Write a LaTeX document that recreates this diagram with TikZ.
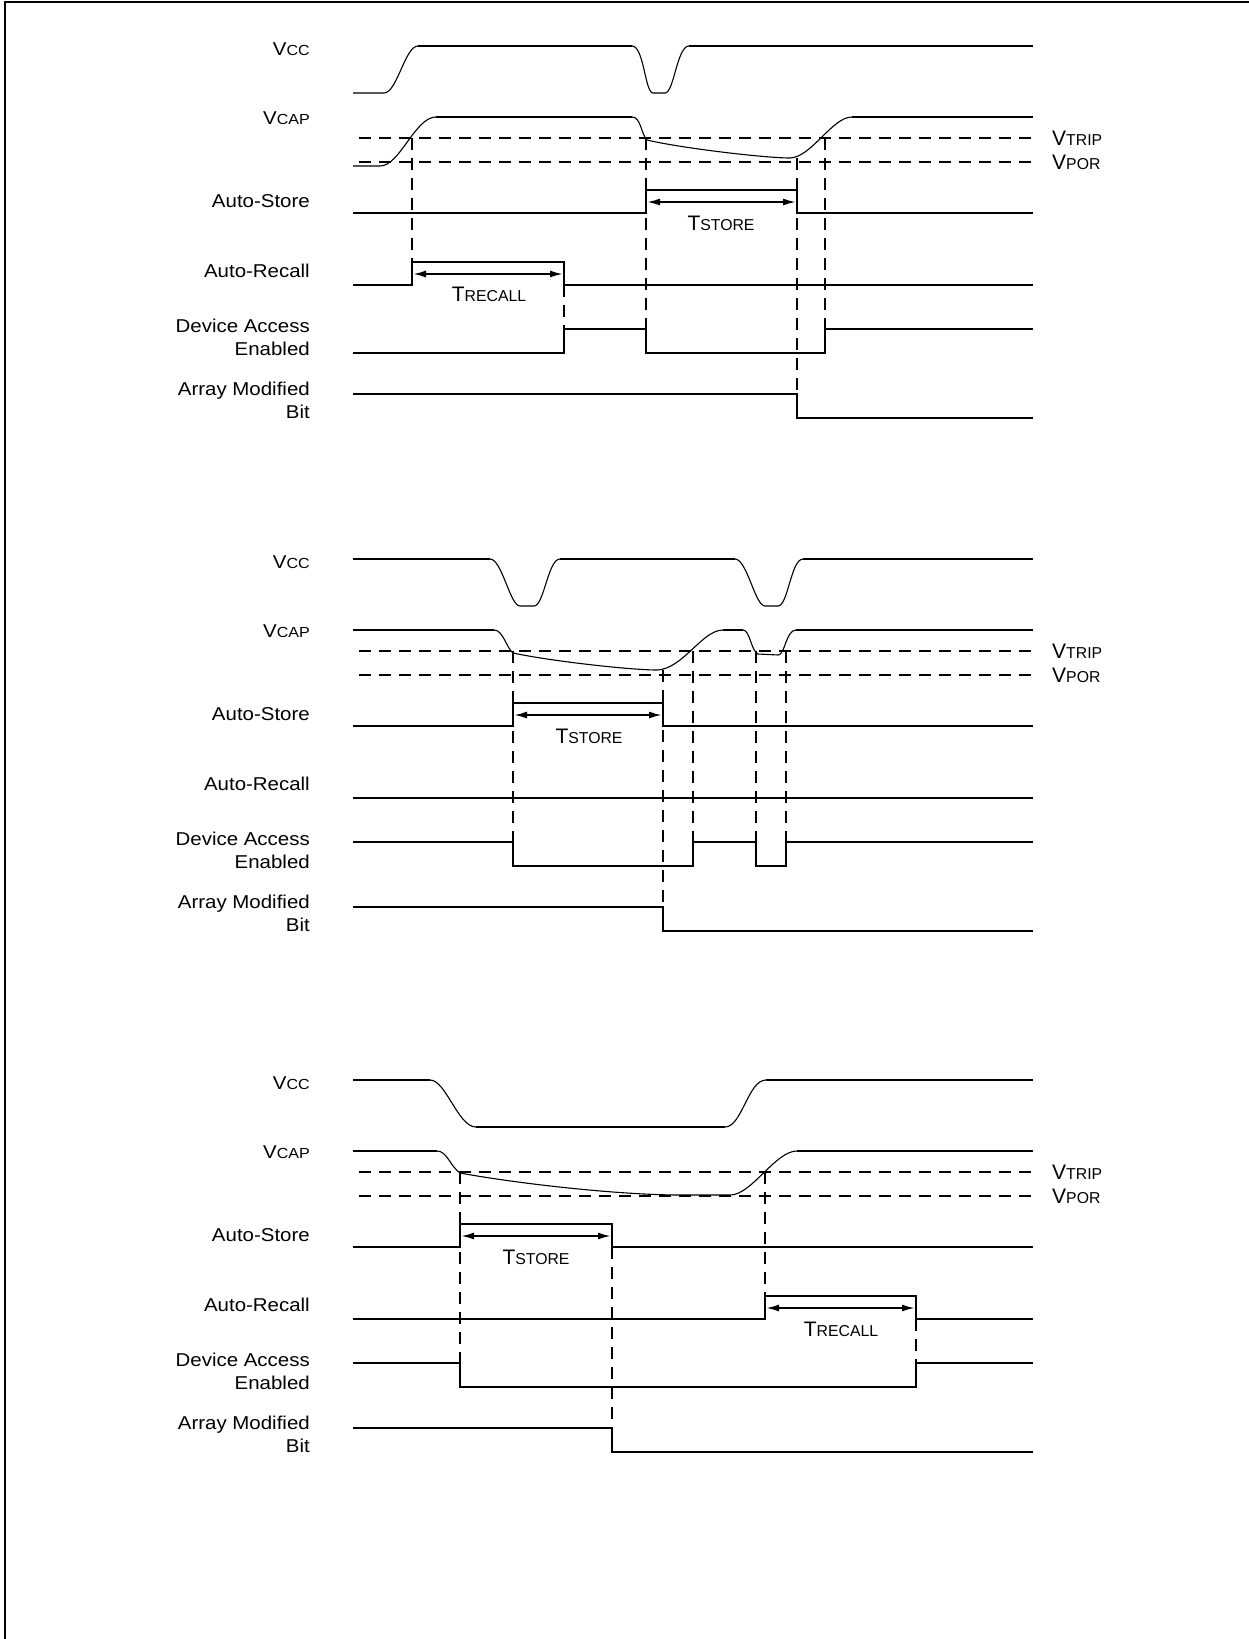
\documentclass[tikz,border=0pt]{standalone}
\usepackage{fontspec}
\setmainfont{Liberation Sans}[FakeStretch=1.1]
\newfontfamily\plainsans{Liberation Sans}
\usetikzlibrary{arrows.meta}
\newcommand{\lowcap}[1]{{\fontsize{14.6}{16}\selectfont #1}}
\newcommand{\timecap}[2]{{\plainsans\fontsize{21}{24}\selectfont #1\fontsize{15.8}{24}\selectfont #2}}

\begin{document}
\begin{tikzpicture}[x=1pt,y=-1pt,
  sig/.style={line width=2.4pt},
  ana/.style={line width=1.1pt},
  guide/.style={line width=2pt,dash pattern=on 12pt off 8pt},
  dim/.style={line width=1.9pt,{Latex[length=13pt,width=7pt]}-{Latex[length=13pt,width=7pt]}},
  lbl/.style={inner sep=0pt,font=\fontsize{18.6}{23}\selectfont,align=right},
  tlbl/.style={inner sep=0pt}]

\useasboundingbox (0,0) rectangle (1249,1639);
\draw[line width=2.4pt] (5,1639) -- (5,2) -- (1249,2);

\foreach \p/\dy in {1/0,2/513,3/1034}{
\begin{scope}[shift={(0,\dy)}]
\node[lbl,anchor=base east] (vcc-\p) at (310,55) {V\lowcap{CC}};
\node[lbl,anchor=base east] (vcap-\p) at (310,124) {V\lowcap{CAP}};
\node[lbl,anchor=base east] (store-\p) at (310,207) {Auto-Store};
\node[lbl,anchor=base east] (recall-\p) at (310,277) {Auto-Recall};
\node[lbl,anchor=north east] (access-\p) at (310,318.5) {Device Access\\Enabled};
\node[lbl,anchor=north east] (modbit-\p) at (310,381.7) {Array Modified\\Bit};
\node[tlbl,anchor=base west] (trip-\p) at (1052,145) {\timecap{V}{TRIP}};
\node[tlbl,anchor=base west] (por-\p) at (1052,169) {\timecap{V}{POR}};
\draw[guide] (359,138) -- (1033,138);
\draw[guide] (359,162) -- (1033,162);
\end{scope}
}

% power up, short dip
\draw[guide] (412,138) -- (412,285) (564,285) -- (564,329) (646,138) -- (646,353)
  (797,158) -- (797,394) (825,138) -- (825,329);
\draw[ana] (353,93) -- (384,93) .. controls (397,93) and (405,46) .. (418,46)
  (632,46) .. controls (644,46) and (645,93) .. (653,93) -- (665,93) .. controls (674,93) and (677,46) .. (689,46);
\draw[sig] (418,46) -- (632,46) (689,46) -- (1033,46);
\draw[ana] (353,166) -- (380,166) .. controls (400,166) and (415,117) .. (436,117)
  (632,117) .. controls (641,117) and (641,134) .. (647,140) .. controls (680,148) and (765,158) .. (790,158)
  .. controls (812,157) and (832,117) .. (852,117);
\draw[sig] (436,117) -- (632,117) (852,117) -- (1033,117);
\draw[sig] (353,213) -- (646,213) -- (646,190) -- (797,190) -- (797,213) -- (1033,213);
\draw[dim] (647,202) -- (796,202);
\node[tlbl,anchor=base] (tstore-1) at (721,230) {\timecap{T}{STORE}};
\draw[sig] (353,285) -- (412,285) -- (412,262) -- (564,262) -- (564,285) -- (1033,285);
\draw[dim] (413,274) -- (563,274);
\node[tlbl,anchor=base] (trecall-1) at (489,301) {\timecap{T}{RECALL}};
\draw[sig] (353,353) -- (564,353) -- (564,329) -- (646,329) -- (646,353) -- (825,353) -- (825,329) -- (1033,329);
\draw[sig] (353,394) -- (797,394) -- (797,418) -- (1033,418);

% two short dips
\begin{scope}[shift={(0,513)}]
\draw[guide] (513,138) -- (513,353) (663,157) -- (663,394) (693,138) -- (693,329)
  (756,138) -- (756,329) (786,138) -- (786,329);
\draw[ana] (490,46) .. controls (502,46) and (510,93) .. (520,93) -- (534,93) .. controls (544,93) and (548,46) .. (560,46)
  (735,46) .. controls (747,46) and (755,93) .. (765,93) -- (778,93) .. controls (788,93) and (791,46) .. (803,46);
\draw[sig] (353,46) -- (490,46) (560,46) -- (735,46) (803,46) -- (1033,46);
\draw[ana] (494,117) .. controls (503,117) and (506,134) .. (513,140) .. controls (550,148) and (630,157) .. (657,157)
  .. controls (683,156) and (702,117) .. (723,117)
  (743,117) .. controls (750,117) and (751,138) .. (758,141) -- (778,142) .. controls (785,142) and (786,117) .. (796,117);
\draw[sig] (353,117) -- (494,117) (723,117) -- (743,117) (796,117) -- (1033,117);
\draw[sig] (353,213) -- (513,213) -- (513,190) -- (663,190) -- (663,213) -- (1033,213);
\draw[dim] (514,202) -- (662,202);
\node[tlbl,anchor=base] (tstore-2) at (589,230) {\timecap{T}{STORE}};
\draw[sig] (353,285) -- (1033,285);
\draw[sig] (353,329) -- (513,329) -- (513,353) -- (693,353) -- (693,329) -- (756,329) -- (756,353)
  -- (786,353) -- (786,329) -- (1033,329);
\draw[sig] (353,394) -- (663,394) -- (663,418) -- (1033,418);
\end{scope}

% long power loss
\begin{scope}[shift={(0,1034)}]
\draw[guide] (460,138) -- (460,329) (612,213) -- (612,394) (765,138) -- (765,285) (916,285) -- (916,329);
\draw[ana] (430,46) .. controls (446,46) and (458,93) .. (476,93)
  (725,93) .. controls (742,93) and (748,46) .. (766,46);
\draw[sig] (353,46) -- (430,46) (476,93) -- (725,93) (766,46) -- (1033,46);
\draw[ana] (437,117) .. controls (447,117) and (450,132) .. (460,139) .. controls (520,150) and (620,161) .. (680,161)
  -- (730,161) .. controls (752,161) and (775,117) .. (797,117);
\draw[sig] (353,117) -- (437,117) (797,117) -- (1033,117);
\draw[sig] (353,213) -- (460,213) -- (460,190) -- (612,190) -- (612,213) -- (1033,213);
\draw[dim] (461,202) -- (611,202);
\node[tlbl,anchor=base] (tstore-3) at (536,230) {\timecap{T}{STORE}};
\draw[sig] (353,285) -- (765,285) -- (765,262) -- (916,262) -- (916,285) -- (1033,285);
\draw[dim] (766,274) -- (915,274);
\node[tlbl,anchor=base] (trecall-3) at (841,302) {\timecap{T}{RECALL}};
\draw[sig] (353,329) -- (460,329) -- (460,353) -- (916,353) -- (916,329) -- (1033,329);
\draw[sig] (353,394) -- (612,394) -- (612,418) -- (1033,418);
\end{scope}
\end{tikzpicture}
\end{document}
